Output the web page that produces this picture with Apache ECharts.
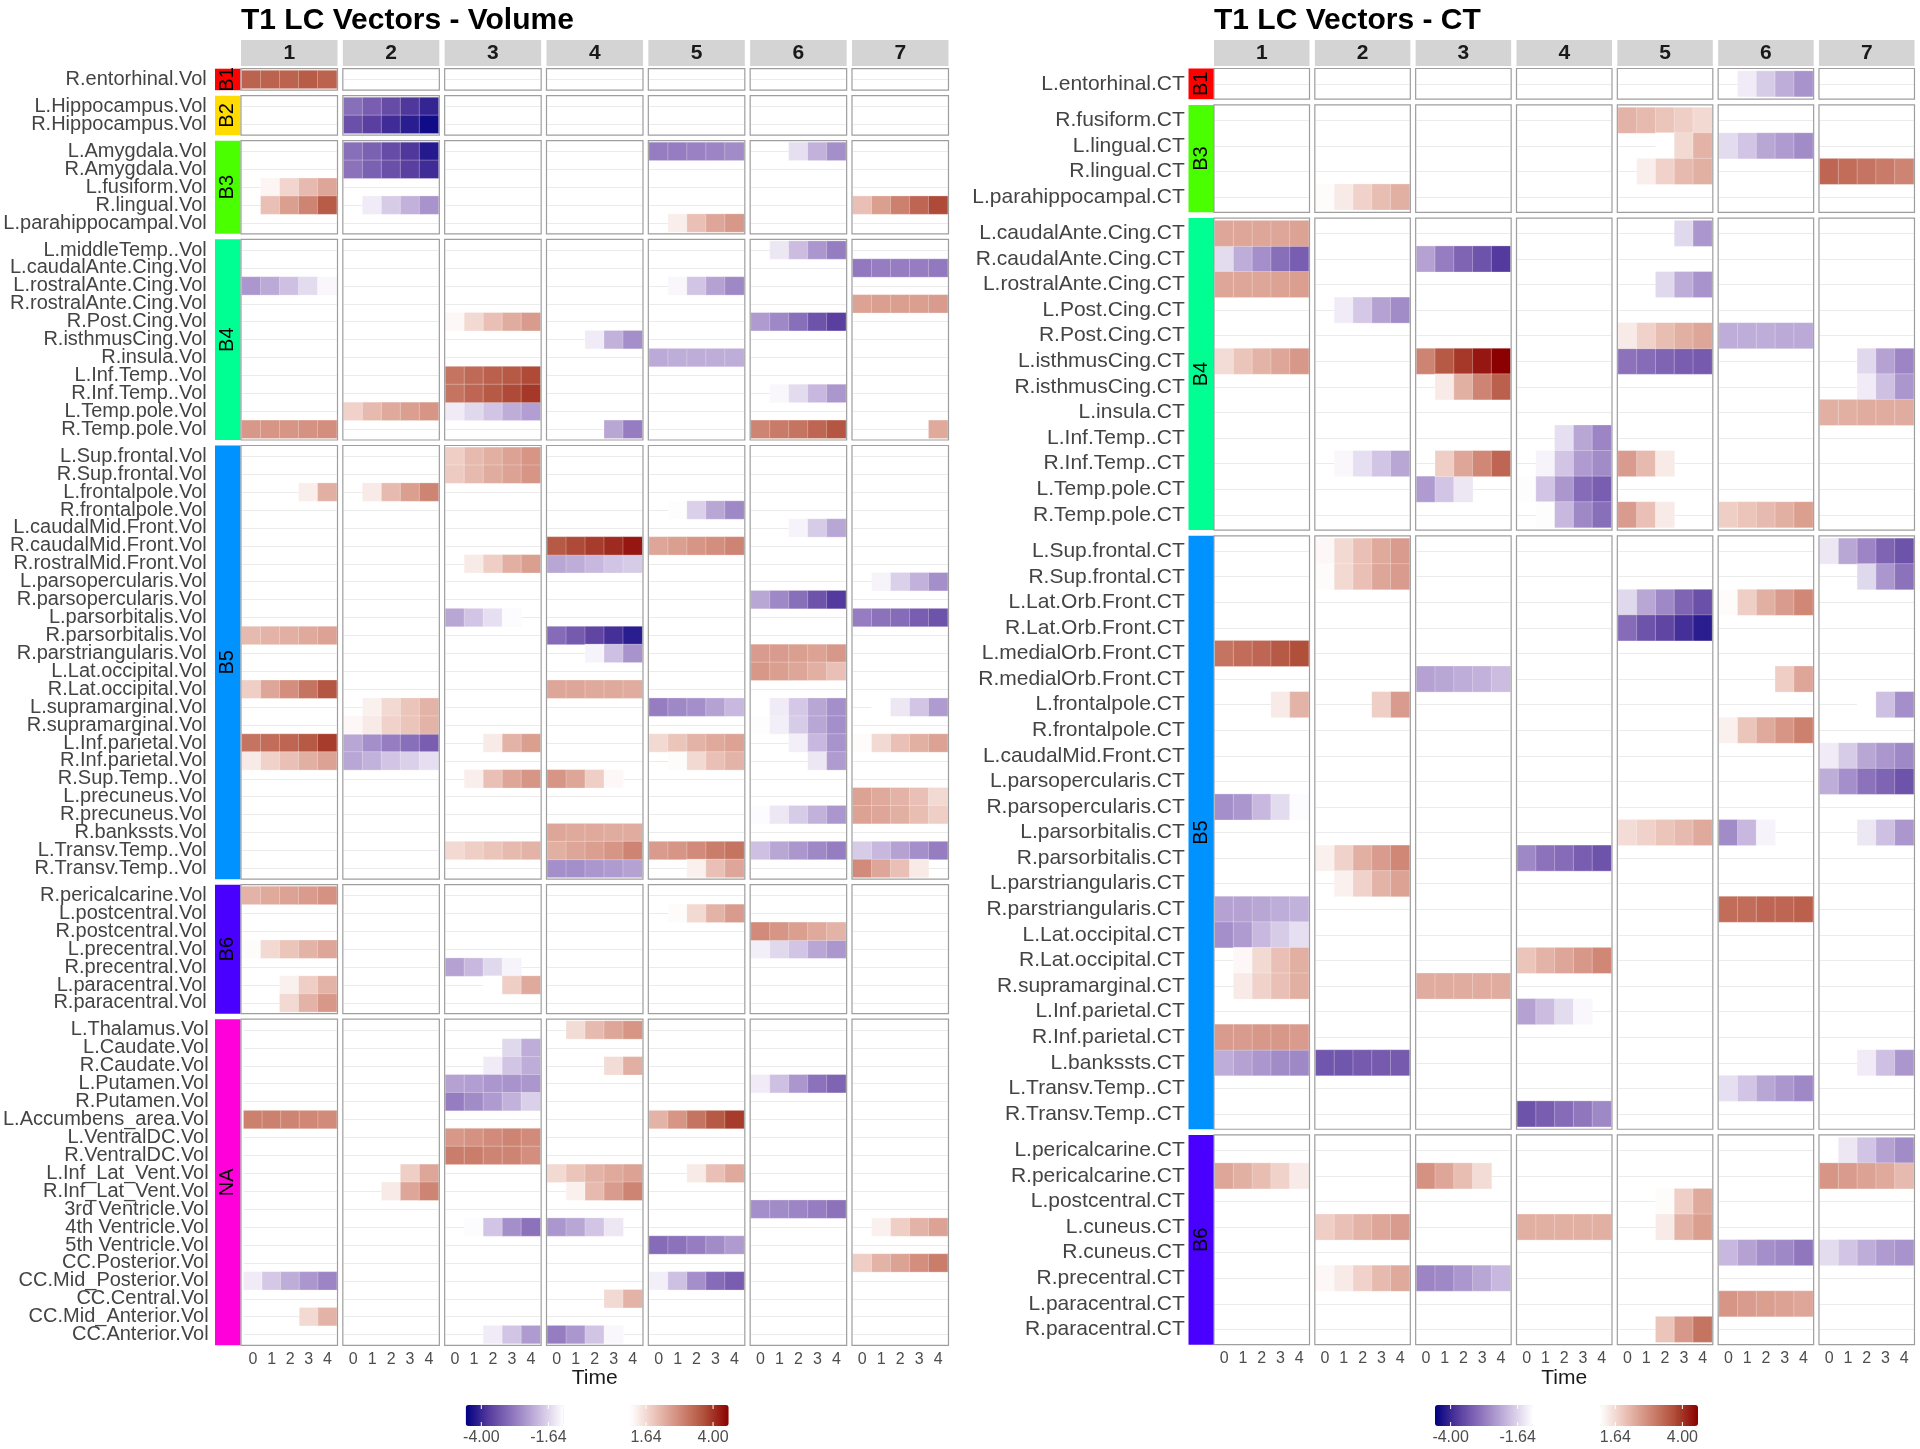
<!DOCTYPE html>
<html><head><meta charset="utf-8">
<script src="https://cdn.jsdelivr.net/npm/echarts@6/dist/echarts.min.js"></script>
<style>html,body{margin:0;padding:0;background:#fff}#c{width:1920px;height:1449px}</style>
</head><body><div id="c"></div>
<script>
// ---------------- DATA ----------------
const facets = ['1','2','3','4','5','6','7'];
const timeLabels = ['0','1','2','3','4'];
const bandColors = {B1:'#FF0000', B2:'#FFDB00', B3:'#49FF00', B4:'#00FF92', B5:'#0092FF', B6:'#4900FF', NA:'#FF00DB'};
const legendBreaks = {neg:[-4.00,-1.64], pos:[1.64,4.00]};
const negRange = [-4.55, -1.1];
const posRange = [1.1, 4.55];

const volGroups = [
 ['B1', ['R.entorhinal.Vol']],
 ['B2', ['L.Hippocampus.Vol','R.Hippocampus.Vol']],
 ['B3', ['L.Amygdala.Vol','R.Amygdala.Vol','L.fusiform.Vol','R.lingual.Vol','L.parahippocampal.Vol']],
 ['B4', ['L.middleTemp..Vol','L.caudalAnte.Cing.Vol','L.rostralAnte.Cing.Vol','R.rostralAnte.Cing.Vol','R.Post.Cing.Vol','R.isthmusCing.Vol','R.insula.Vol','L.Inf.Temp..Vol','R.Inf.Temp..Vol','L.Temp.pole.Vol','R.Temp.pole.Vol']],
 ['B5', ['L.Sup.frontal.Vol','R.Sup.frontal.Vol','L.frontalpole.Vol','R.frontalpole.Vol','L.caudalMid.Front.Vol','R.caudalMid.Front.Vol','R.rostralMid.Front.Vol','L.parsopercularis.Vol','R.parsopercularis.Vol','L.parsorbitalis.Vol','R.parsorbitalis.Vol','R.parstriangularis.Vol','L.Lat.occipital.Vol','R.Lat.occipital.Vol','L.supramarginal.Vol','R.supramarginal.Vol','L.Inf.parietal.Vol','R.Inf.parietal.Vol','R.Sup.Temp..Vol','L.precuneus.Vol','R.precuneus.Vol','R.bankssts.Vol','L.Transv.Temp..Vol','R.Transv.Temp..Vol']],
 ['B6', ['R.pericalcarine.Vol','L.postcentral.Vol','R.postcentral.Vol','L.precentral.Vol','R.precentral.Vol','L.paracentral.Vol','R.paracentral.Vol']],
 ['NA', ['L.Thalamus.Vol','L.Caudate.Vol','R.Caudate.Vol','L.Putamen.Vol','R.Putamen.Vol','L.Accumbens_area.Vol','L.VentralDC.Vol','R.VentralDC.Vol','L.Inf_Lat_Vent.Vol','R.Inf_Lat_Vent.Vol','3rd Ventricle.Vol','4th Ventricle.Vol','5th Ventricle.Vol','CC.Posterior.Vol','CC.Mid_Posterior.Vol','CC.Central.Vol','CC.Mid_Anterior.Vol','CC.Anterior.Vol']]
];

const ctGroups = [
 ['B1', ['L.entorhinal.CT']],
 ['B3', ['R.fusiform.CT','L.lingual.CT','R.lingual.CT','L.parahippocampal.CT']],
 ['B4', ['L.caudalAnte.Cing.CT','R.caudalAnte.Cing.CT','L.rostralAnte.Cing.CT','L.Post.Cing.CT','R.Post.Cing.CT','L.isthmusCing.CT','R.isthmusCing.CT','L.insula.CT','L.Inf.Temp..CT','R.Inf.Temp..CT','L.Temp.pole.CT','R.Temp.pole.CT']],
 ['B5', ['L.Sup.frontal.CT','R.Sup.frontal.CT','L.Lat.Orb.Front.CT','R.Lat.Orb.Front.CT','L.medialOrb.Front.CT','R.medialOrb.Front.CT','L.frontalpole.CT','R.frontalpole.CT','L.caudalMid.Front.CT','L.parsopercularis.CT','R.parsopercularis.CT','L.parsorbitalis.CT','R.parsorbitalis.CT','L.parstriangularis.CT','R.parstriangularis.CT','L.Lat.occipital.CT','R.Lat.occipital.CT','R.supramarginal.CT','L.Inf.parietal.CT','R.Inf.parietal.CT','L.bankssts.CT','L.Transv.Temp..CT','R.Transv.Temp..CT']],
 ['B6', ['L.pericalcarine.CT','R.pericalcarine.CT','L.postcentral.CT','L.cuneus.CT','R.cuneus.CT','R.precentral.CT','L.paracentral.CT','R.paracentral.CT']]
];

// [row, facet, t0, t1, t2, t3, t4]   (0 = no tile)
const volCells = [
 ['R.entorhinal.Vol',1, 3.4,3.4,3.4,3.5,3.4],
 ['L.Hippocampus.Vol',2, -3.0,-3.25,-3.5,-3.8,-4.05],
 ['R.Hippocampus.Vol',2, -3.45,-3.7,-3.95,-4.15,-4.4],
 ['L.Amygdala.Vol',2, -3.0,-3.2,-3.5,-3.8,-4.2],
 ['L.Amygdala.Vol',5, -2.8,-2.8,-2.75,-2.7,-2.6],
 ['L.Amygdala.Vol',6, 0,0,-1.5,-2.1,-2.55],
 ['R.Amygdala.Vol',2, -2.95,-3.2,-3.45,-3.7,-3.95],
 ['L.fusiform.Vol',1, 0,1.25,1.7,2.1,2.4],
 ['R.lingual.Vol',1, 0,2.0,2.5,2.9,3.5],
 ['R.lingual.Vol',2, 0,-1.35,-1.75,-2.1,-2.5],
 ['R.lingual.Vol',7, 2.0,2.5,2.95,3.35,3.75],
 ['L.parahippocampal.Vol',5, 0,1.35,2.0,2.4,2.6],
 ['L.middleTemp..Vol',6, 0,-1.4,-1.95,-2.45,-2.8],
 ['L.caudalAnte.Cing.Vol',7, -2.85,-2.8,-2.8,-2.8,-2.85],
 ['L.rostralAnte.Cing.Vol',1, -2.45,-2.2,-1.9,-1.55,-1.2],
 ['L.rostralAnte.Cing.Vol',5, 0,-1.2,-1.85,-2.3,-2.65],
 ['R.rostralAnte.Cing.Vol',7, 2.45,2.5,2.5,2.5,2.55],
 ['R.Post.Cing.Vol',3, 1.2,1.65,2.0,2.3,2.55],
 ['R.Post.Cing.Vol',6, -2.4,-2.65,-3.0,-3.4,-3.7],
 ['R.isthmusCing.Vol',4, 0,0,-1.35,-2.1,-2.55],
 ['R.insula.Vol',5, -2.2,-2.15,-2.15,-2.15,-2.15],
 ['L.Inf.Temp..Vol',3, 3.15,3.3,3.45,3.55,3.75],
 ['R.Inf.Temp..Vol',3, 3.15,3.35,3.55,3.75,3.95],
 ['R.Inf.Temp..Vol',6, 0,-1.2,-1.55,-2.0,-2.45],
 ['L.Temp.pole.Vol',2, 1.75,2.1,2.35,2.5,2.65],
 ['L.Temp.pole.Vol',3, -1.35,-1.6,-1.85,-2.15,-2.35],
 ['R.Temp.pole.Vol',1, 2.6,2.65,2.65,2.7,2.75],
 ['R.Temp.pole.Vol',4, 0,0,0,-2.25,-2.8],
 ['R.Temp.pole.Vol',6, 2.9,3.05,3.15,3.35,3.6],
 ['R.Temp.pole.Vol',7, 0,0,0,0,2.35],
 ['L.Sup.frontal.Vol',3, 1.8,2.1,2.25,2.45,2.65],
 ['R.Sup.frontal.Vol',3, 1.85,2.1,2.3,2.45,2.65],
 ['L.frontalpole.Vol',1, 0,0,0,1.35,2.25],
 ['L.frontalpole.Vol',2, 0,1.4,2.1,2.5,2.9],
 ['R.frontalpole.Vol',5, 0,-1.12,-1.7,-2.25,-2.65],
 ['L.caudalMid.Front.Vol',6, 0,0,-1.25,-1.75,-2.25],
 ['R.caudalMid.Front.Vol',4, 3.55,3.75,3.9,4.1,4.3],
 ['R.caudalMid.Front.Vol',5, 2.4,2.5,2.65,2.75,2.9],
 ['R.rostralMid.Front.Vol',3, 0,1.4,1.8,2.25,2.5],
 ['R.rostralMid.Front.Vol',4, -2.25,-2.15,-2.0,-1.85,-1.75],
 ['L.parsopercularis.Vol',7, 0,-1.25,-1.7,-2.1,-2.55],
 ['R.parsopercularis.Vol',6, -2.25,-2.65,-3.0,-3.4,-3.75],
 ['L.parsorbitalis.Vol',3, -2.25,-1.85,-1.5,-1.15,0],
 ['L.parsorbitalis.Vol',7, -2.8,-2.95,-3.05,-3.25,-3.4],
 ['R.parsorbitalis.Vol',1, 2.1,2.2,2.25,2.35,2.45],
 ['R.parsorbitalis.Vol',4, -3.05,-3.3,-3.6,-3.9,-4.15],
 ['R.parstriangularis.Vol',4, 0,0,-1.25,-1.9,-2.5],
 ['R.parstriangularis.Vol',6, 2.55,2.55,2.5,2.45,2.6],
 ['L.Lat.occipital.Vol',6, 2.6,2.5,2.4,2.25,2.0],
 ['R.Lat.occipital.Vol',1, 1.8,2.4,2.75,3.15,3.6],
 ['R.Lat.occipital.Vol',4, 2.4,2.4,2.35,2.35,2.3],
 ['L.supramarginal.Vol',2, 0,1.3,1.65,1.95,2.2],
 ['L.supramarginal.Vol',5, -2.8,-2.65,-2.55,-2.3,-2.0],
 ['L.supramarginal.Vol',6, -1.1,-1.35,-1.8,-2.25,-2.55],
 ['L.supramarginal.Vol',7, 0,-1.1,-1.4,-1.85,-2.4],
 ['R.supramarginal.Vol',2, 1.2,1.4,1.75,1.95,2.2],
 ['R.supramarginal.Vol',6, -1.12,-1.3,-1.75,-2.25,-2.55],
 ['L.Inf.parietal.Vol',1, 3.15,3.25,3.35,3.55,3.9],
 ['L.Inf.parietal.Vol',2, -2.25,-2.55,-2.8,-3.0,-3.25],
 ['L.Inf.parietal.Vol',3, 0,0,1.4,2.2,2.5],
 ['L.Inf.parietal.Vol',5, 1.65,1.95,2.2,2.35,2.45],
 ['L.Inf.parietal.Vol',6, 0,0,-1.3,-2.0,-2.5],
 ['L.Inf.parietal.Vol',7, 1.15,1.65,2.0,2.25,2.45],
 ['R.Inf.parietal.Vol',1, 1.4,1.75,2.0,2.25,2.45],
 ['R.Inf.parietal.Vol',2, -2.25,-2.1,-1.85,-1.7,-1.5],
 ['R.Inf.parietal.Vol',5, 0,1.15,1.65,2.0,2.2],
 ['R.Inf.parietal.Vol',6, 0,0,0,-1.4,-2.4],
 ['R.Sup.Temp..Vol',3, 0,1.35,2.0,2.4,2.65],
 ['R.Sup.Temp..Vol',4, 2.65,2.4,1.8,1.2,0],
 ['L.precuneus.Vol',7, 2.45,2.35,2.2,2.0,1.65],
 ['R.precuneus.Vol',6, -1.15,-1.4,-1.75,-2.1,-2.45],
 ['R.precuneus.Vol',7, 2.45,2.4,2.25,2.05,1.8],
 ['R.bankssts.Vol',4, 2.4,2.35,2.35,2.3,2.3],
 ['L.Transv.Temp..Vol',3, 1.65,1.8,1.95,2.1,2.2],
 ['L.Transv.Temp..Vol',4, 2.25,2.4,2.5,2.65,2.9],
 ['L.Transv.Temp..Vol',5, 2.55,2.65,2.8,3.0,3.15],
 ['L.Transv.Temp..Vol',6, -1.9,-2.25,-2.45,-2.65,-2.8],
 ['L.Transv.Temp..Vol',7, -1.75,-2.0,-2.3,-2.55,-2.8],
 ['R.Transv.Temp..Vol',4, -2.55,-2.55,-2.45,-2.4,-2.3],
 ['R.Transv.Temp..Vol',5, 0,0,1.3,2.0,2.4],
 ['R.Transv.Temp..Vol',7, 2.8,2.4,2.0,1.4,0],
 ['R.pericalcarine.Vol',1, 2.2,2.35,2.45,2.55,2.7],
 ['L.postcentral.Vol',5, 0,1.15,1.65,2.2,2.55],
 ['R.postcentral.Vol',6, 2.8,2.65,2.5,2.35,2.2],
 ['L.precentral.Vol',1, 1.15,1.65,1.95,2.2,2.4],
 ['L.precentral.Vol',6, -1.3,-1.6,-1.85,-2.25,-2.45],
 ['R.precentral.Vol',3, -2.3,-2.0,-1.6,-1.25,0],
 ['L.paracentral.Vol',1, 0,0,1.3,1.8,2.2],
 ['L.paracentral.Vol',3, 0,0,1.1,1.8,2.35],
 ['R.paracentral.Vol',1, 0,0,1.65,2.2,2.6],
 ['L.Thalamus.Vol',4, 0,1.6,2.1,2.4,2.65],
 ['L.Caudate.Vol',3, 0,0,0,-1.6,-2.15],
 ['R.Caudate.Vol',3, 0,0,-1.35,-1.85,-2.15],
 ['R.Caudate.Vol',4, 0,0,0,1.6,2.25],
 ['L.Putamen.Vol',3, -2.3,-2.35,-2.45,-2.5,-2.45],
 ['L.Putamen.Vol',6, -1.35,-1.9,-2.45,-2.95,-3.15],
 ['R.Putamen.Vol',3, -2.8,-2.6,-2.4,-2.1,-1.7],
 ['L.Accumbens_area.Vol',1, 2.95,2.95,2.9,2.85,2.8],
 ['L.Accumbens_area.Vol',5, 2.2,2.65,3.15,3.55,3.9],
 ['L.VentralDC.Vol',3, 2.6,2.7,2.8,2.9,2.8],
 ['R.VentralDC.Vol',3, 3.0,3.0,2.9,2.9,2.75],
 ['L.Inf_Lat_Vent.Vol',2, 0,0,0,1.8,2.4],
 ['L.Inf_Lat_Vent.Vol',4, 1.65,1.95,2.2,2.35,2.45],
 ['L.Inf_Lat_Vent.Vol',5, 0,0,1.4,2.0,2.35],
 ['R.Inf_Lat_Vent.Vol',2, 0,0,1.4,2.4,2.9],
 ['R.Inf_Lat_Vent.Vol',4, 0,1.3,2.1,2.55,2.9],
 ['3rd Ventricle.Vol',6, -2.55,-2.6,-2.7,-2.8,-2.95],
 ['4th Ventricle.Vol',3, 0,-1.15,-1.85,-2.55,-2.95],
 ['4th Ventricle.Vol',4, -2.45,-2.25,-1.85,-1.4,0],
 ['4th Ventricle.Vol',7, 0,1.3,1.8,2.2,2.45],
 ['5th Ventricle.Vol',5, -3.05,-2.95,-2.8,-2.6,-2.4],
 ['CC.Posterior.Vol',7, 1.8,2.2,2.45,2.75,3.0],
 ['CC.Mid_Posterior.Vol',1, -1.35,-1.8,-2.15,-2.45,-2.7],
 ['CC.Mid_Posterior.Vol',5, -1.3,-1.9,-2.55,-3.05,-3.25],
 ['CC.Central.Vol',4, 0,0,0,1.65,2.2],
 ['CC.Mid_Anterior.Vol',1, 0,0,0,1.65,2.2],
 ['CC.Anterior.Vol',3, 0,0,-1.35,-1.85,-2.4],
 ['CC.Anterior.Vol',4, -2.8,-2.45,-1.85,-1.2,0]
];

const ctCells = [
 ['L.entorhinal.CT',6, 0,-1.35,-1.75,-2.15,-2.5],
 ['R.fusiform.CT',5, 2.2,2.1,1.95,1.8,1.65],
 ['L.lingual.CT',5, 0,0,1.1,1.65,2.2],
 ['L.lingual.CT',6, -1.55,-1.85,-2.25,-2.4,-2.6],
 ['R.lingual.CT',5, 0,1.35,1.75,2.1,2.25],
 ['R.lingual.CT',7, 3.35,3.25,3.15,3.05,2.9],
 ['L.parahippocampal.CT',2, 1.15,1.4,1.75,2.05,2.25],
 ['L.caudalAnte.Cing.CT',1, 2.4,2.4,2.4,2.4,2.45],
 ['L.caudalAnte.Cing.CT',5, 0,0,0,-1.6,-2.45],
 ['R.caudalAnte.Cing.CT',1, -1.55,-2.15,-2.55,-3.0,-3.25],
 ['R.caudalAnte.Cing.CT',3, -2.3,-2.8,-3.15,-3.4,-3.75],
 ['L.rostralAnte.Cing.CT',1, 2.4,2.4,2.4,2.45,2.5],
 ['L.rostralAnte.Cing.CT',5, 0,0,-1.6,-2.15,-2.5],
 ['L.Post.Cing.CT',2, 0,-1.35,-1.8,-2.3,-2.6],
 ['R.Post.Cing.CT',5, 1.4,1.75,2.05,2.25,2.4],
 ['R.Post.Cing.CT',6, -2.15,-2.15,-2.15,-2.2,-2.2],
 ['L.isthmusCing.CT',1, 1.6,1.95,2.2,2.4,2.6],
 ['L.isthmusCing.CT',3, 2.9,3.55,3.95,4.3,4.55],
 ['L.isthmusCing.CT',5, -2.95,-3.05,-3.15,-3.25,-3.3],
 ['L.isthmusCing.CT',7, 0,0,-1.6,-2.3,-2.7],
 ['R.isthmusCing.CT',3, 0,1.4,2.25,2.9,3.45],
 ['R.isthmusCing.CT',7, 0,0,-1.35,-1.9,-2.45],
 ['L.insula.CT',7, 2.25,2.25,2.3,2.3,2.3],
 ['L.Inf.Temp..CT',4, 0,0,-1.5,-2.25,-2.7],
 ['R.Inf.Temp..CT',2, 0,-1.2,-1.5,-1.85,-2.25],
 ['R.Inf.Temp..CT',3, 0,1.8,2.4,2.85,3.35],
 ['R.Inf.Temp..CT',4, 0,-1.25,-1.85,-2.4,-2.6],
 ['R.Inf.Temp..CT',5, 2.55,2.1,1.4,0,0],
 ['L.Temp.pole.CT',3, -2.4,-1.85,-1.4,0,0],
 ['L.Temp.pole.CT',4, -1.12,-1.85,-2.45,-3.05,-3.25],
 ['R.Temp.pole.CT',4, 0,-1.12,-2.0,-2.65,-3.0],
 ['R.Temp.pole.CT',5, 2.55,2.0,1.4,0,0],
 ['R.Temp.pole.CT',6, 1.8,1.95,2.1,2.25,2.5],
 ['L.Sup.frontal.CT',2, 1.2,1.65,2.0,2.35,2.55],
 ['L.Sup.frontal.CT',7, -1.4,-2.25,-2.7,-3.15,-3.4],
 ['R.Sup.frontal.CT',2, 1.15,1.65,2.0,2.4,2.55],
 ['R.Sup.frontal.CT',7, 0,0,-1.6,-2.45,-2.95],
 ['L.Lat.Orb.Front.CT',5, -1.6,-2.25,-2.65,-3.15,-3.45],
 ['L.Lat.Orb.Front.CT',6, 1.15,1.8,2.25,2.55,2.85],
 ['R.Lat.Orb.Front.CT',5, -3.05,-3.4,-3.6,-3.9,-4.15],
 ['L.medialOrb.Front.CT',1, 3.15,3.25,3.35,3.55,3.7],
 ['R.medialOrb.Front.CT',3, -2.3,-2.25,-2.15,-2.1,-1.95],
 ['R.medialOrb.Front.CT',6, 0,0,0,1.8,2.4],
 ['L.frontalpole.CT',1, 0,0,0,1.4,2.2],
 ['L.frontalpole.CT',2, 0,0,0,1.8,2.55],
 ['L.frontalpole.CT',7, 0,0,-1.1,-1.9,-2.55],
 ['R.frontalpole.CT',6, 1.3,1.95,2.35,2.65,2.95],
 ['L.caudalMid.Front.CT',7, -1.35,-1.75,-2.25,-2.45,-2.65],
 ['L.parsopercularis.CT',7, -2.15,-2.55,-2.95,-3.15,-3.4],
 ['R.parsopercularis.CT',1, -2.55,-2.45,-2.0,-1.55,-1.15],
 ['L.parsorbitalis.CT',5, 1.6,1.75,1.95,2.1,2.35],
 ['L.parsorbitalis.CT',6, -2.6,-2.0,-1.25,0,0],
 ['L.parsorbitalis.CT',7, 0,0,-1.4,-1.9,-2.45],
 ['R.parsorbitalis.CT',2, 1.3,1.75,2.25,2.55,2.85],
 ['R.parsorbitalis.CT',4, -2.65,-2.95,-3.05,-3.25,-3.4],
 ['L.parstriangularis.CT',2, 0,1.3,1.75,2.2,2.45],
 ['R.parstriangularis.CT',1, -2.3,-2.3,-2.25,-2.15,-2.1],
 ['R.parstriangularis.CT',6, 3.25,3.25,3.35,3.35,3.45],
 ['L.Lat.occipital.CT',1, -2.55,-2.4,-2.0,-1.75,-1.5],
 ['R.Lat.occipital.CT',1, 0,1.2,1.65,2.0,2.25],
 ['R.Lat.occipital.CT',4, 1.95,2.2,2.4,2.6,2.85],
 ['R.supramarginal.CT',1, 0,1.4,1.75,2.0,2.25],
 ['R.supramarginal.CT',3, 2.3,2.3,2.3,2.3,2.3],
 ['L.Inf.parietal.CT',4, -2.3,-1.95,-1.55,-1.2,0],
 ['R.Inf.parietal.CT',1, 2.55,2.55,2.6,2.6,2.55],
 ['L.bankssts.CT',1, -2.15,-2.3,-2.45,-2.6,-2.65],
 ['L.bankssts.CT',2, -3.35,-3.35,-3.3,-3.3,-3.3],
 ['L.bankssts.CT',7, 0,0,-1.35,-1.9,-2.45],
 ['L.Transv.Temp..CT',6, -1.5,-1.85,-2.25,-2.45,-2.65],
 ['R.Transv.Temp..CT',4, -3.4,-3.25,-3.05,-2.9,-2.65],
 ['L.pericalcarine.CT',7, -1.1,-1.4,-1.85,-2.3,-2.6],
 ['R.pericalcarine.CT',1, 2.4,2.25,2.05,1.75,1.4],
 ['R.pericalcarine.CT',3, 2.7,2.4,2.05,1.6,0],
 ['R.pericalcarine.CT',7, 2.65,2.55,2.45,2.35,2.1],
 ['L.postcentral.CT',5, 0,0,1.15,1.8,2.35],
 ['L.cuneus.CT',2, 1.8,2.0,2.2,2.4,2.55],
 ['L.cuneus.CT',4, 2.25,2.25,2.25,2.25,2.25],
 ['L.cuneus.CT',5, 0,0,1.4,2.2,2.5],
 ['R.cuneus.CT',6, -2.0,-2.3,-2.55,-2.65,-2.9],
 ['R.cuneus.CT',7, -1.55,-1.85,-2.15,-2.4,-2.5],
 ['R.precentral.CT',2, 1.2,1.4,1.75,2.1,2.35],
 ['R.precentral.CT',3, -2.7,-2.65,-2.45,-2.25,-2.0],
 ['L.paracentral.CT',6, 2.65,2.55,2.5,2.45,2.4],
 ['R.paracentral.CT',5, 0,0,1.95,2.6,3.15]
];

// ---------------- LAYOUT / STYLE ----------------
const FONT = '"Liberation Sans", Arial, Helvetica, sans-serif';
const negColors = ['#000080','#5b3fa0','#947bc0','#cabbe0','#ffffff'];
const posColors = ['#ffffff','#ebc3b9','#d18978','#b1503b','#8b0000'];

const sides = [
 {title:'T1 LC Vectors - Volume', groups: volGroups, cells: volCells,
  x0:241, pitch:101.83, colW:96.5, top:68.7, unit:17.92, gap:5.5,
  bandX:215, bandW:25.5, labelFont:20, labelMargin:35,
  legNegX:465.7, legPosX:630.7},
 {title:'T1 LC Vectors - CT', groups: ctGroups, cells: ctCells,
  x0:1214, pitch:100.83, colW:95.5, top:68.5, unit:25.58, gap:5.7,
  bandX:1188.5, bandW:25.5, labelFont:21, labelMargin:30,
  legNegX:1435, legPosX:1600}
];
const LEG_Y = 1405, LEG_H = 21, LEG_W = 98;

const option = {animation:false, backgroundColor:'#fff', grid:[], xAxis:[], yAxis:[], series:[], visualMap:[], graphic:{elements:[]}};
const G = option.graphic.elements;

function heat(gIndex, yIndex, data){
  return {type:'heatmap', xAxisIndex:gIndex, yAxisIndex:yIndex, data:data, silent:true,
    itemStyle:{borderColor:'rgba(255,255,255,0.35)', borderWidth:0.8},
    emphasis:{disabled:true}, progressive:0};
}

sides.forEach(side => {
  const negIdx = [], posIdx = [];
  let y = side.top;
  const lastG = side.groups.length - 1;
  side.groups.forEach((g, gi) => {
    const band = g[0], rows = g[1], n = rows.length;
    const panelH = (n + 0.2) * side.unit;
    const tileTop = y + 0.1 * side.unit;
    const tileH = n * side.unit;
    G.push({type:'rect', shape:{x:side.bandX, y:y, width:side.bandW, height:panelH}, style:{fill:bandColors[band]}, z:5});
    G.push({type:'text', x:side.bandX + side.bandW/2, y:y + panelH/2, rotation:Math.PI/2, z:6,
      style:{text:band, fontSize:20, fontFamily:FONT, fill:'#000', align:'center', verticalAlign:'middle'}});
    facets.forEach((f, c) => {
      const left = side.x0 + c * side.pitch;
      const gIndex = option.grid.length;
      option.grid.push({left:left + 0.8, top:tileTop, width:side.colW - 1.6, height:tileH});
      option.xAxis.push({gridIndex:gIndex, type:'category', data:timeLabels,
        axisLine:{show:false}, axisTick:{show:false}, splitLine:{show:false},
        axisLabel:{show:gi === lastG, interval:0, fontSize:16, color:'#4d4d4d', fontFamily:FONT, margin:0.1*side.unit + 6}});
      const yi = option.yAxis.length;
      option.yAxis.push({gridIndex:gIndex, type:'category', data:rows, inverse:true, position:'left',
        axisLine:{show:false}, axisTick:{show:false}, splitLine:{show:false},
        axisLabel:{show:c === 0, interval:0, fontSize:side.labelFont, color:'#444444', fontFamily:FONT, margin:side.labelMargin}});
      option.yAxis.push({gridIndex:gIndex, type:'category', boundaryGap:false, position:'right',
        data:Array.from({length:2*n + 1}, (_, k) => 'g' + k),
        axisLine:{show:false}, axisTick:{show:false}, axisLabel:{show:false},
        splitLine:{show:true, interval:(i) => i % 2 === 1, lineStyle:{color:'#ebebeb', width:1}}});
      const neg = [], pos = [];
      side.cells.forEach(cell => {
        if (cell[1] !== c + 1) return;
        const r = rows.indexOf(cell[0]);
        if (r < 0) return;
        for (let t = 0; t < 5; t++) {
          const v = cell[2 + t];
          if (v < 0) neg.push([t, r, v]); else if (v > 0) pos.push([t, r, v]);
        }
      });
      if (neg.length) { negIdx.push(option.series.length); option.series.push(heat(gIndex, yi, neg)); }
      if (pos.length) { posIdx.push(option.series.length); option.series.push(heat(gIndex, yi, pos)); }
      G.push({type:'rect', shape:{x:left, y:y, width:side.colW, height:panelH},
        style:{fill:null, stroke:'#9e9e9e', lineWidth:1.2}, z:50});
      if (gi === 0) {
        G.push({type:'rect', shape:{x:left, y:40, width:side.colW, height:26}, style:{fill:'#d4d4d4'}, z:5});
        G.push({type:'text', x:left + side.colW/2, y:53.5, z:6,
          style:{text:f, fontSize:21, fontWeight:'bold', fontFamily:FONT, fill:'#1a1a1a', align:'center', verticalAlign:'middle'}});
      }
    });
    y += panelH + side.gap;
  });
  // title
  G.push({type:'text', x:side.x0, y:20.5, z:6,
    style:{text:side.title, fontSize:30, fontWeight:'bold', fontFamily:FONT, fill:'#000', align:'left', verticalAlign:'middle'}});
  // axis title
  G.push({type:'text', x:side.x0 + (6*side.pitch + side.colW)/2, y:1378, z:6,
    style:{text:'Time', fontSize:21, fontFamily:FONT, fill:'#1a1a1a', align:'center', verticalAlign:'middle'}});
  // colour legends
  [[negRange, negColors, negIdx, side.legNegX, legendBreaks.neg],
   [posRange, posColors, posIdx, side.legPosX, legendBreaks.pos]].forEach(([rng, cols, idx, lx, brks]) => {
    option.visualMap.push({type:'continuous', orient:'horizontal', min:rng[0], max:rng[1],
      seriesIndex:idx, inRange:{color:cols}, calculable:false, hoverLink:false,
      itemWidth:LEG_H, itemHeight:LEG_W, left:lx, top:LEG_Y, padding:0, text:null, showLabel:false});
    brks.forEach(b => {
      const bx = lx + (b - rng[0]) / (rng[1] - rng[0]) * LEG_W;
      G.push({type:'line', shape:{x1:bx, y1:LEG_Y, x2:bx, y2:LEG_Y + 4}, style:{stroke:'#fff', lineWidth:1}, z:60});
      G.push({type:'line', shape:{x1:bx, y1:LEG_Y + LEG_H - 4, x2:bx, y2:LEG_Y + LEG_H}, style:{stroke:'#fff', lineWidth:1}, z:60});
      G.push({type:'text', x:bx, y:1438, z:6,
        style:{text:b.toFixed(2), fontSize:16, fontFamily:FONT, fill:'#4d4d4d', align:'center', verticalAlign:'middle'}});
    });
  });
});

const chart = echarts.init(document.getElementById('c'), null, {renderer:'canvas'});
chart.setOption(option);
</script>
</body></html>
